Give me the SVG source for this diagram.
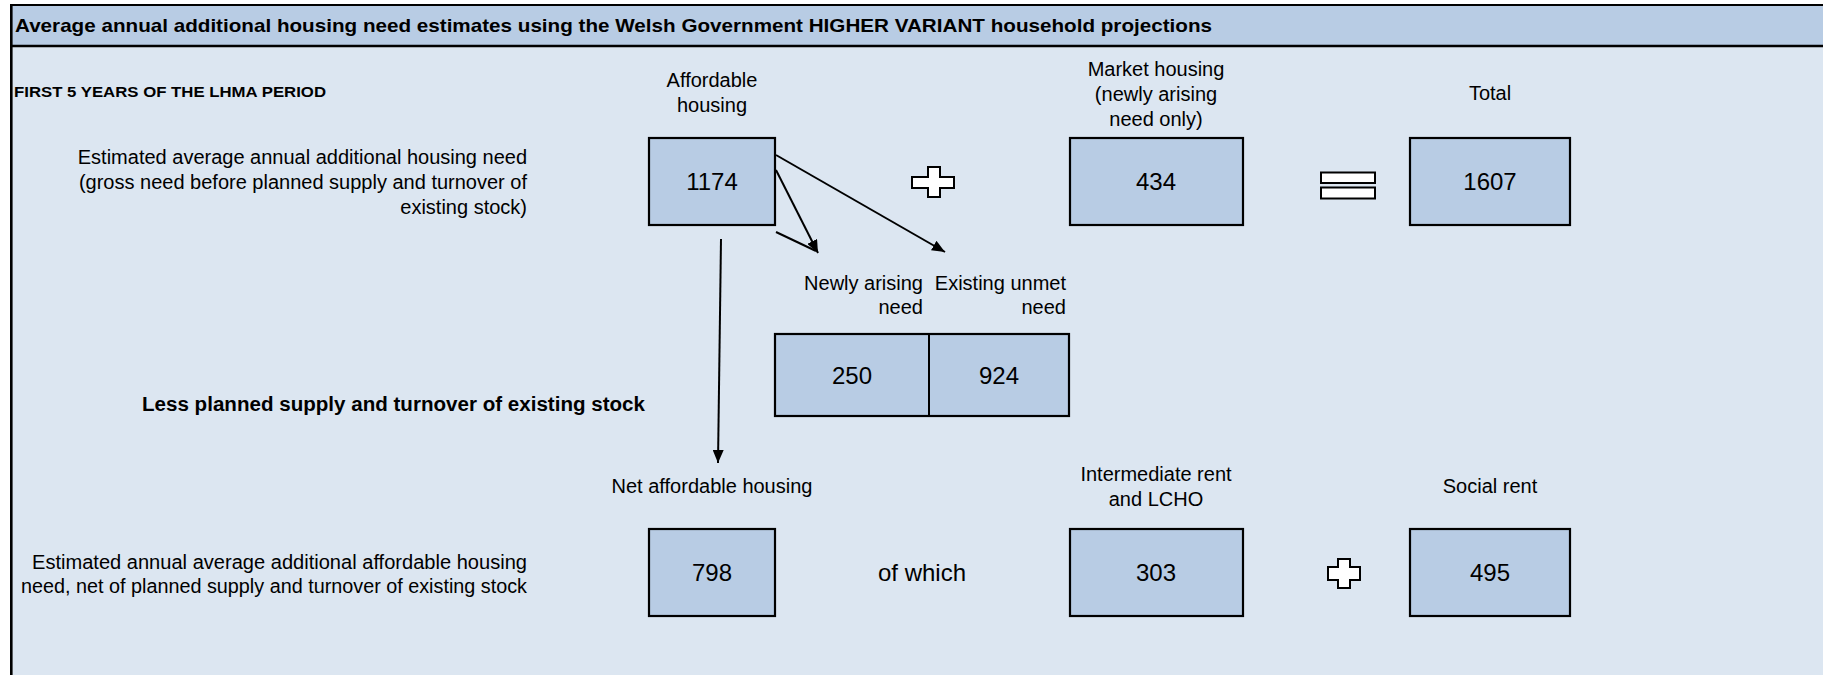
<svg xmlns="http://www.w3.org/2000/svg" width="1823" height="675" viewBox="0 0 1823 675">
<style>
text{font-family:"Liberation Sans",Arial,sans-serif;fill:#000}
.t{font-size:20px}
.n{font-size:24px;text-anchor:middle}
.c{text-anchor:middle}
.e{text-anchor:end}
.b{font-weight:bold}
.box{fill:#b8cce4;stroke:#000;stroke-width:2.2}
.op{fill:#fff;stroke:#000;stroke-width:2}
.ln{stroke:#000;stroke-width:2;fill:none}
</style>
<defs>
<marker id="ah" viewBox="0 0 13 11" refX="13" refY="5.5" markerWidth="13" markerHeight="11" markerUnits="userSpaceOnUse" orient="auto">
<path d="M0,0 L13,5.5 L0,11 Z" fill="#000"/>
</marker>
</defs>
<rect x="0" y="0" width="1823" height="675" fill="#fff"/>
<g id="frame">
<rect x="11" y="5" width="1812" height="670" fill="#dce6f1"/>
<rect x="11" y="5" width="1812" height="41" fill="#b8cce4"/>
<line x1="10" y1="5" x2="1823" y2="5" stroke="#000" stroke-width="2"/>
<line x1="10" y1="46" x2="1823" y2="46" stroke="#000" stroke-width="2.7"/>
<line x1="11.3" y1="4" x2="11.3" y2="675" stroke="#000" stroke-width="2.6"/>
</g>
<g id="title">
<text class="b" x="15" y="31.5" font-size="19" textLength="1197" lengthAdjust="spacingAndGlyphs">Average annual additional housing need estimates using the Welsh Government HIGHER VARIANT household projections</text>
<text class="b" x="14" y="97" font-size="15" textLength="312" lengthAdjust="spacingAndGlyphs">FIRST 5 YEARS OF THE LHMA PERIOD</text>
</g>
<g id="label-gross">
<text class="t e" x="527" y="163.5">Estimated average annual additional housing need</text>
<text class="t e" x="527" y="188.5">(gross need before planned supply and turnover of</text>
<text class="t e" x="527" y="213.5">existing stock)</text>
</g>
<g id="label-less">
<text class="b" x="142" y="410.5" font-size="19.5" textLength="503" lengthAdjust="spacingAndGlyphs">Less planned supply and turnover of existing stock</text>
</g>
<g id="label-net">
<text class="t e" x="527" y="568.5" textLength="495" lengthAdjust="spacingAndGlyphs">Estimated annual average additional affordable housing</text>
<text class="t e" x="527" y="593" textLength="506" lengthAdjust="spacingAndGlyphs">need, net of planned supply and turnover of existing stock</text>
</g>
<g id="node-affordable">
<text class="t c" x="712" y="87">Affordable</text>
<text class="t c" x="712" y="112">housing</text>
<rect class="box" x="649" y="138" width="126" height="87"/>
<text class="n" x="712" y="190">1174</text>
</g>
<g id="op-plus1">
<path class="op" d="M928,167 H940 V177 H954 V188 H940 V197 H928 V188 H912 V177 H928 Z"/>
</g>
<g id="node-market">
<text class="t c" x="1156" y="76">Market housing</text>
<text class="t c" x="1156" y="101">(newly arising</text>
<text class="t c" x="1156" y="126">need only)</text>
<rect class="box" x="1070" y="138" width="173" height="87"/>
<text class="n" x="1156" y="190">434</text>
</g>
<g id="op-equals">
<rect class="op" x="1321" y="172.5" width="54" height="10.5"/>
<rect class="op" x="1321" y="187.5" width="54" height="11"/>
</g>
<g id="node-total">
<text class="t c" x="1490" y="100">Total</text>
<rect class="box" x="1410" y="138" width="160" height="87"/>
<text class="n" x="1490" y="190">1607</text>
</g>
<g id="node-split">
<text class="t e" x="923" y="290">Newly arising</text>
<text class="t e" x="923" y="314">need</text>
<text class="t e" x="1066" y="290">Existing unmet</text>
<text class="t e" x="1066" y="314">need</text>
<rect class="box" x="775" y="334" width="294" height="82"/>
<line x1="929" y1="334" x2="929" y2="416" stroke="#000" stroke-width="2"/>
<text class="n" x="852" y="383.5">250</text>
<text class="n" x="999" y="383.5">924</text>
</g>
<g id="node-net">
<text class="t c" x="712" y="493">Net affordable housing</text>
<rect class="box" x="649" y="529" width="126" height="87"/>
<text class="n" x="712" y="581">798</text>
</g>
<g id="label-ofwhich">
<text class="n" x="922" y="581">of which</text>
</g>
<g id="node-intermediate">
<text class="t c" x="1156" y="481">Intermediate rent</text>
<text class="t c" x="1156" y="506">and LCHO</text>
<rect class="box" x="1070" y="529" width="173" height="87"/>
<text class="n" x="1156" y="581">303</text>
</g>
<g id="op-plus2">
<path class="op" d="M1338,559 H1350 V567 H1360 V580 H1350 V588 H1338 V580 H1328 V567 H1338 Z"/>
</g>
<g id="node-social">
<text class="t c" x="1490" y="493">Social rent</text>
<rect class="box" x="1410" y="529" width="160" height="87"/>
<text class="n" x="1490" y="581">495</text>
</g>
<g id="connectors">
<line class="ln" x1="776" y1="155" x2="945" y2="252" marker-end="url(#ah)"/>
<line class="ln" x1="776" y1="170" x2="818" y2="253" marker-end="url(#ah)"/>
<line class="ln" x1="776" y1="232" x2="816" y2="251"/>
<line class="ln" x1="721" y1="239" x2="718" y2="463" marker-end="url(#ah)"/>
</g>
</svg>
